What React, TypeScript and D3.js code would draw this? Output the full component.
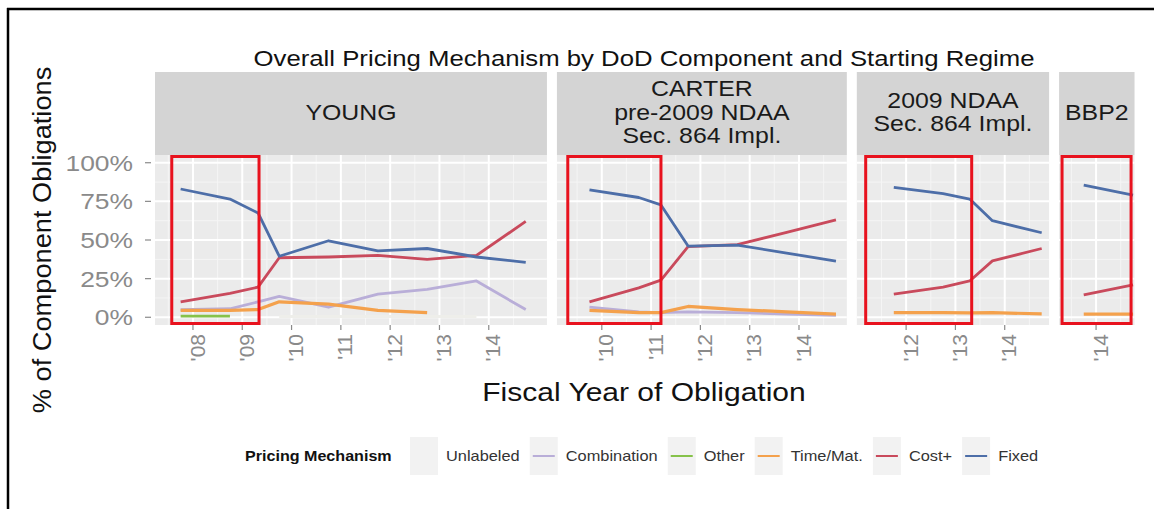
import React from "react";
import * as d3 from "d3";

// ---------- data ----------
const chartTitle = "Overall Pricing Mechanism by DoD Component and Starting Regime";
const yAxisTitle = "% of Component Obligations";
const xAxisTitle = "Fiscal Year of Obligation";
const legendTitle = "Pricing Mechanism";

const seriesNames = ["Unlabeled", "Combination", "Other", "Time/Mat.", "Cost+", "Fixed"];
const seriesColors = ["#eeeeea", "#b9aed8", "#86c24a", "#f4a14c", "#c94a5c", "#4d6ea8"];

const stripLabels = [
  ["YOUNG"],
  ["CARTER", "pre-2009 NDAA", "Sec. 864 Impl."],
  ["2009 NDAA", "Sec. 864 Impl."],
  ["BBP2"],
];
const panelDomains = [
  [2007.23, 2015.18],
  [2009.09, 2014.97],
  [2011.0, 2014.9],
  [2013.25, 2014.78],
];
const panelTicks = [
  [2008, 2009, 2010, 2011, 2012, 2013, 2014],
  [2010, 2011, 2012, 2013, 2014],
  [2012, 2013, 2014],
  [2014],
];
const highlightBoxes = [
  [2007.57, 2009.34],
  [2009.31, 2011.2],
  [2011.18, 2013.33],
  [2013.31, 2014.71],
];
const yTicks = [0, 0.25, 0.5, 0.75, 1];
const yMinor = [0.125, 0.375, 0.625, 0.875];

type V = number | null;

// YOUNG
const youngYears = [2007.75, 2008.75, 2009.32, 2009.75, 2010.75, 2011.75, 2012.75, 2013.75, 2014.75];
const youngUnlabeled: V[] = [null, null, null, 0.005, 0.005, 0.005, 0.005, 0.005, null];
const youngCombination: V[] = [0.05, 0.055, 0.1, 0.135, 0.065, 0.15, 0.18, 0.235, 0.05];
const youngOther: V[] = [0.008, 0.008, null, null, null, null, null, null, null];
const youngTimeMat: V[] = [0.045, 0.045, 0.05, 0.1, 0.085, 0.045, 0.03, null, null];
const youngCostPlus: V[] = [0.1, 0.155, 0.195, 0.385, 0.39, 0.4, 0.375, 0.4, 0.62];
const youngFixed: V[] = [0.83, 0.765, 0.675, 0.395, 0.495, 0.43, 0.445, 0.39, 0.355];

// CARTER
const carterYears = [2009.75, 2010.75, 2011.2, 2011.75, 2012.75, 2013.75, 2014.75];
const carterUnlabeled: V[] = [null, null, null, null, null, null, null];
const carterCombination: V[] = [0.065, 0.035, 0.03, 0.035, 0.03, 0.02, 0.012];
const carterOther: V[] = [null, null, null, null, null, null, null];
const carterTimeMat: V[] = [0.045, 0.03, 0.03, 0.07, 0.05, 0.035, 0.02];
const carterCostPlus: V[] = [0.1, 0.19, 0.24, 0.457, 0.47, 0.55, 0.63];
const carterFixed: V[] = [0.825, 0.775, 0.727, 0.461, 0.467, 0.415, 0.364];

// 2009 NDAA
const ndaaYears = [2011.75, 2012.75, 2013.29, 2013.75, 2014.75];
const ndaaUnlabeled: V[] = [null, null, null, null, null];
const ndaaCombination: V[] = [null, null, null, null, null];
const ndaaOther: V[] = [null, null, null, null, null];
const ndaaTimeMat: V[] = [0.03, 0.03, 0.028, 0.03, 0.022];
const ndaaCostPlus: V[] = [0.15, 0.195, 0.235, 0.365, 0.445];
const ndaaFixed: V[] = [0.84, 0.8, 0.765, 0.625, 0.547];

// BBP2
const bbpYears = [2013.75, 2014.75];
const bbpUnlabeled: V[] = [null, null];
const bbpCombination: V[] = [null, null];
const bbpOther: V[] = [null, null];
const bbpTimeMat: V[] = [0.02, 0.02];
const bbpCostPlus: V[] = [0.145, 0.21];
const bbpFixed: V[] = [0.855, 0.79];

const panelYears = [youngYears, carterYears, ndaaYears, bbpYears];
const panelSeries: V[][][] = [
  [youngUnlabeled, youngCombination, youngOther, youngTimeMat, youngCostPlus, youngFixed],
  [carterUnlabeled, carterCombination, carterOther, carterTimeMat, carterCostPlus, carterFixed],
  [ndaaUnlabeled, ndaaCombination, ndaaOther, ndaaTimeMat, ndaaCostPlus, ndaaFixed],
  [bbpUnlabeled, bbpCombination, bbpOther, bbpTimeMat, bbpCostPlus, bbpFixed],
];

// ---------- layout ----------
const W = 1154;
const H = 509;
const FONT = "'Liberation Sans', Arial, Helvetica, sans-serif";
const plotLeft = 155;
const pxPerYear = 49.3;
const panelGap = 10;
const stripTop = 72;
const panelTop = 155;
const panelBottom = 325;

let measureCtx: CanvasRenderingContext2D | null = null;
function textWidth(t: string, font: string) {
  if (!measureCtx) measureCtx = document.createElement("canvas").getContext("2d");
  if (!measureCtx) return t.length * 7;
  measureCtx.font = font;
  return measureCtx.measureText(t).width;
}

function SText(props: any) {
  const { x, y, sx = 1, sy = 1, rotate = 0, children, ...rest } = props;
  return (
    <text
      transform={`translate(${x},${y}) scale(${sx},${sy})${rotate ? ` rotate(${rotate})` : ""}`}
      fontFamily={FONT}
      {...rest}
    >
      {children}
    </text>
  );
}

export default function App() {
  const y = d3.scaleLinear().domain([-0.05, 1.05]).range([panelBottom, panelTop]);

  let cursor = plotLeft;
  const panels = panelDomains.map((dom, i) => {
    const w = (dom[1] - dom[0]) * pxPerYear;
    const x = d3.scaleLinear().domain(dom).range([cursor, cursor + w]);
    const p = { x, left: cursor, right: cursor + w, i };
    cursor += w + panelGap;
    return p;
  });

  // legend layout
  const legSize = 14;
  const legSx = 1.17;
  const legFont = `${legSize}px ${FONT}`;
  const legItems: { key: number; label: number; name: string; color: string; idx: number }[] = [];
  let lx = 410;
  seriesNames.forEach((n, idx) => {
    const keyX = lx;
    const labelX = keyX + 36;
    legItems.push({ key: keyX, label: labelX, name: n, color: seriesColors[idx], idx });
    lx = labelX + textWidth(n, legFont) * legSx + 10;
  });

  return (
    <svg width={W} height={H} style={{ position: "absolute", left: 0, top: 0, background: "#fff" }}>
      <rect x={0} y={0} width={W} height={H} fill="#fff" />
      {/* frame */}
      <line x1={7} y1={9} x2={W} y2={9} stroke="#000" strokeWidth={2.5} />
      <line x1={8} y1={8} x2={8} y2={H} stroke="#000" strokeWidth={2.5} />

      <SText x={644} y={66} fontSize={22} sx={1.17} textAnchor="middle" fill="#111">
        {chartTitle}
      </SText>

      {panels.map((p) => {
        const i = p.i;
        const clipId = `clip${i}`;
        const minorX = d3
          .range(Math.ceil(panelDomains[i][0] - 0.5), panelDomains[i][1], 1)
          .map((v) => v + 0.5)
          .filter((v) => v > panelDomains[i][0] && v < panelDomains[i][1]);
        const line = d3
          .line<[number, V]>()
          .defined((d) => d[1] !== null)
          .x((d) => p.x(d[0]))
          .y((d) => y(d[1] as number));
        const labels = stripLabels[i];
        const cx = (p.left + p.right) / 2;
        const stripMid = (stripTop + panelTop) / 2;
        const lh = 23.5;
        return (
          <g key={i}>
            <rect x={p.left} y={stripTop} width={p.right - p.left} height={panelTop - stripTop} fill="#d4d4d4" />
            {labels.map((t, k) => (
              <SText
                key={k}
                x={cx}
                y={stripMid + (k - (labels.length - 1) / 2) * lh + 6}
                fontSize={22}
                sx={1.13}
                textAnchor="middle"
                fill="#1a1a1a"
              >
                {t}
              </SText>
            ))}
            <rect x={p.left} y={panelTop} width={p.right - p.left} height={panelBottom - panelTop} fill="#ebebeb" />
            <clipPath id={clipId}>
              <rect x={p.left} y={panelTop} width={p.right - p.left} height={panelBottom - panelTop} />
            </clipPath>
            {yMinor.map((v) => (
              <line key={"ym" + v} x1={p.left} x2={p.right} y1={y(v)} y2={y(v)} stroke="#f5f5f5" strokeWidth={1} />
            ))}
            {minorX.map((v) => (
              <line key={"xm" + v} x1={p.x(v)} x2={p.x(v)} y1={panelTop} y2={panelBottom} stroke="#f5f5f5" strokeWidth={1} />
            ))}
            {yTicks.map((v) => (
              <line key={"y" + v} x1={p.left} x2={p.right} y1={y(v)} y2={y(v)} stroke="#fff" strokeWidth={2} />
            ))}
            {panelTicks[i].map((v) => (
              <line key={"x" + v} x1={p.x(v)} x2={p.x(v)} y1={panelTop} y2={panelBottom} stroke="#fff" strokeWidth={2} />
            ))}
            <g clipPath={`url(#${clipId})`}>
              {panelSeries[i].map((vals, s) => (
                <path
                  key={s}
                  d={line(panelYears[i].map((yr, k) => [yr, vals[k]] as [number, V])) || ""}
                  fill="none"
                  stroke={seriesColors[s]}
                  strokeWidth={s === 3 ? 3.2 : 2.8}
                  strokeLinejoin="round"
                />
              ))}
            </g>
            {/* highlight box */}
            <rect
              x={p.x(highlightBoxes[i][0])}
              y={panelTop + 1.5}
              width={p.x(highlightBoxes[i][1]) - p.x(highlightBoxes[i][0])}
              height={panelBottom - panelTop - 3}
              fill="none"
              stroke="#e8121e"
              strokeWidth={3}
            />
            {/* x ticks */}
            {panelTicks[i].map((v) => (
              <g key={"xt" + v}>
                <line x1={p.x(v)} x2={p.x(v)} y1={panelBottom} y2={panelBottom + 5} stroke="#8a8a8a" strokeWidth={1.2} />
                <SText
                  x={p.x(v)}
                  y={panelBottom + 9}
                  rotate={-90}
                  fontSize={21}
                  textAnchor="end"
                  dy="0.55em"
                  fill="#8a8a8a"
                >
                  {"'" + String(v).slice(2)}
                </SText>
              </g>
            ))}
          </g>
        );
      })}

      {/* y axis */}
      {yTicks.map((v) => (
        <g key={"yl" + v}>
          <line x1={plotLeft - 10} x2={plotLeft - 4} y1={y(v)} y2={y(v)} stroke="#8a8a8a" strokeWidth={1.2} />
          <SText x={plotLeft - 22} y={y(v)} dy="0.36em" fontSize={22} sx={1.2} textAnchor="end" fill="#8a8a8a">
            {d3.format(".0%")(v)}
          </SText>
        </g>
      ))}
      <SText x={42} y={240} sy={1.09} rotate={-90} fontSize={25} textAnchor="middle" dy="0.36em" fill="#111">
        {yAxisTitle}
      </SText>
      <SText x={644} y={401} fontSize={25} sx={1.2} textAnchor="middle" fill="#111">
        {xAxisTitle}
      </SText>

      {/* legend */}
      <SText x={245} y={461} fontSize={14} sx={1.15} fontWeight="bold" fill="#111">
        {legendTitle}
      </SText>
      {legItems.map((it) => (
        <g key={it.name}>
          <rect x={it.key} y={437} width={28} height={38} fill="#f2f2f2" />
          {it.idx > 0 && (
            <line x1={it.key + 3} x2={it.key + 25} y1={456} y2={456} stroke={it.color} strokeWidth={2} />
          )}
          <SText x={it.label} y={461} fontSize={legSize} fill="#333" sx={legSx}>
            {it.name}
          </SText>
        </g>
      ))}
    </svg>
  );
}
